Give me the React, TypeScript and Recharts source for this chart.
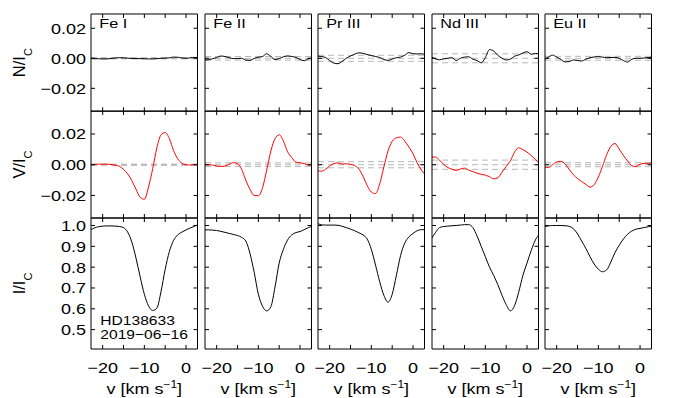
import React from "react";
import { Line, LineChart, ReferenceLine, XAxis, YAxis } from "recharts";

const FONT = '"Liberation Sans", Arial, Helvetica, sans-serif';
const STRETCH = 1.2; // the original lettering is a wide Helvetica

// velocity grid, km/s
const velocity = [
  -23, -22, -21, -20, -19, -18, -17, -16, -15, -14, -13, -12, -11, -10, -9, -8,
  -7, -6, -5, -4, -3, -2, -1, 0, 1, 2, 3,
];

const species = ["Fe I", "Fe II", "Pr III", "Nd III", "Eu II"];
const star = "HD138633";
const obsDate = "2019−06−16";

// null profiles N/Ic
const nullFeI = [0, -0.0002, -0.0003, -0.0004, -0.0004, -0.0001, 0.0002, 0.0004, 0.0003, 0.0001, -0.0001, -0.0002, -0.0002, -0.0003, -0.0004, -0.0004, -0.0002, 0, 0.0001, 0.0003, 0.0008, 0.0007, 0.0002, 0, 0.0003, 0.0006, 0.0005];
const nullFeII = [-0.0011, -0.001, -0.0003, 0.0005, 0.0015, 0.0012, 0.0004, -0.0002, -0.0002, 0, -0.0012, -0.0014, -0.0001, 0.0007, 0.0012, 0.003, 0.0012, -0.0008, -0.0002, 0.001, 0.0016, 0.0012, 0.0006, -0.0008, -0.0016, -0.0004, 0];
const nullPrIII = [0.0015, 0.0012, 0.0005, -0.0015, -0.0032, -0.0036, -0.002, 0, 0.0015, 0.0028, 0.0036, 0.0033, 0.0025, 0.0018, 0.0012, 0.0005, -0.0008, -0.0014, -0.0005, 0.0004, 0.0008, 0.002, 0.0038, 0.003, 0.0029, 0.003, 0.0025];
const nullNdIII = [0.0011, -0.0004, -0.001, -0.0004, 0, 0.0004, -0.0015, 0, 0.0008, 0.001, -0.0006, -0.0015, -0.003, 0.0005, 0.0058, 0.0048, 0.002, 0, -0.0011, -0.0005, 0.0014, 0.0022, 0.0035, 0.0044, 0.0027, 0.0032, 0.003];
const nullEuII = [-0.0012, 0.0008, 0.0021, 0.0008, -0.0008, -0.0024, -0.0022, -0.0011, -0.0015, -0.0018, -0.0006, 0.0004, 0.0009, 0.0011, 0.0008, 0.0004, 0.0005, 0.0006, 0, -0.0015, -0.0025, -0.0007, 0, 0, 0.0002, 0.0005, 0.0007];

// Stokes V/Ic
const stokesFeI = [0, 0.0002, 0.0004, 0.0004, 0.0004, 0.0002, -0.0003, -0.001, -0.003, -0.0059, -0.0104, -0.016, -0.0212, -0.0225, -0.0145, -0.0026, 0.011, 0.0195, 0.021, 0.017, 0.0093, 0.0039, 0.001, 0, -0.0002, 0, 0];
const stokesFeII = [0, 0, -0.0002, -0.0008, -0.0011, -0.0009, 0.0004, 0.0014, 0.0007, -0.003, -0.0102, -0.016, -0.02, -0.0202, -0.015, -0.0035, 0.009, 0.017, 0.0195, 0.0155, 0.0085, 0.0047, 0.0017, 0.0012, 0.0008, -0.0002, -0.0004];
const stokesPrIII = [-0.0038, -0.0042, -0.003, -0.0008, 0.0008, 0.0012, 0.0005, 0.0006, 0.0003, -0.0006, -0.0028, -0.0075, -0.0135, -0.0178, -0.0188, -0.0125, -0.0015, 0.009, 0.0152, 0.0175, 0.018, 0.0155, 0.0115, 0.0072, 0.0012, -0.0035, -0.0068];
const stokesNdIII = [0.005, 0.005, 0.003, 0.0002, -0.0018, -0.003, -0.0037, -0.0028, -0.0022, -0.0035, -0.0045, -0.0055, -0.0062, -0.0068, -0.0078, -0.0092, -0.0085, -0.0048, -0.0012, 0.0025, 0.0082, 0.011, 0.0098, 0.0082, 0.006, 0.0035, 0.0005];
const stokesEuII = [-0.0015, -0.0018, 0, 0.0018, 0.0022, 0.0006, -0.003, -0.0065, -0.009, -0.011, -0.0128, -0.0146, -0.013, -0.008, -0.001, 0.0065, 0.012, 0.0138, 0.0102, 0.0061, 0.0025, -0.0006, -0.0012, 0.0003, 0.0009, 0.001, 0.001];

// intensity I/Ic
const intensityFeI = [0.978, 0.988, 0.994, 0.997, 0.998, 0.998, 0.997, 0.995, 0.99, 0.968, 0.92, 0.843, 0.753, 0.67, 0.614, 0.592, 0.603, 0.683, 0.79, 0.875, 0.928, 0.955, 0.968, 0.979, 0.988, 0.996, 1.005];
const intensityFeII = [0.979, 0.979, 0.978, 0.976, 0.972, 0.967, 0.962, 0.957, 0.952, 0.943, 0.925, 0.865, 0.775, 0.67, 0.612, 0.59, 0.61, 0.705, 0.82, 0.885, 0.93, 0.955, 0.966, 0.971, 0.98, 0.99, 0.997];
const intensityPrIII = [1.012, 1.003, 1.002, 1.002, 1.002, 1.001, 0.996, 0.99, 0.983, 0.975, 0.965, 0.955, 0.935, 0.885, 0.81, 0.73, 0.665, 0.632, 0.67, 0.76, 0.855, 0.915, 0.945, 0.962, 0.975, 0.98, 0.98];
const intensityNdIII = [0.935, 0.965, 0.99, 0.995, 0.997, 0.999, 1.0, 1.002, 1.004, 1.004, 0.99, 0.95, 0.9, 0.85, 0.8, 0.76, 0.715, 0.665, 0.62, 0.59, 0.615, 0.68, 0.76, 0.82, 0.88, 0.93, 0.96];
const intensityEuII = [0.995, 0.998, 1.0, 1.0, 1.0, 0.999, 0.996, 0.985, 0.96, 0.925, 0.89, 0.85, 0.815, 0.79, 0.778, 0.787, 0.825, 0.87, 0.905, 0.935, 0.958, 0.973, 0.982, 0.986, 0.99, 0.994, 0.998];

// error level drawn as the dashed lines around zero
const noiseLevel = [0.0004, 0.0012, 0.002, 0.003, 0.0013];

const velocityTicks = [-20, -15, -10, -5, 0];
const velocityLabels = [-20, -10, 0];
const polTicks = [-0.02, 0, 0.02];
const intensityTicks = [0.5, 0.6, 0.7, 0.8, 0.9, 1.0];

const nullByLine = [nullFeI, nullFeII, nullPrIII, nullNdIII, nullEuII];
const stokesByLine = [stokesFeI, stokesFeII, stokesPrIII, stokesNdIII, stokesEuII];
const intensityByLine = [intensityFeI, intensityFeII, intensityPrIII, intensityNdIII, intensityEuII];

const X_DOMAIN: [number, number] = [-22.8, 2.75];
const COL_LEFT = [91, 204.5, 318, 431.5, 545];
const PLOT_W = 106.5;
const SIDE = 14; // spare room left of inner panels so the "−20" labels fit

const ROWS = [
  { key: "n", name: "N", domain: [-0.0353, 0.0295], ticks: polTicks, digits: 2, color: "#000", top: 14, h: 97.3 },
  { key: "s", name: "V", domain: [-0.0347, 0.035], ticks: polTicks, digits: 2, color: "#ff0000", top: 111.3, h: 107 },
  { key: "i", name: "I", domain: [0.407, 1.036], ticks: intensityTicks, digits: 1, color: "#000", top: 218.3, h: 131 },
];

function fmt(v: number, digits: number) {
  const s = Math.abs(v).toFixed(digits);
  return v < -1e-9 ? `−${s}` : s;
}

function SText({ x, y, anchor = "start", size = 15, children }: any) {
  return (
    <text
      transform={`translate(${x},${y}) scale(${STRETCH},1)`}
      textAnchor={anchor}
      fontSize={size}
      fontFamily={FONT}
      fill="#000"
    >
      {children}
    </text>
  );
}

const noLabel = () => <g />;

function Panel({ col, row }: { col: number; row: number }) {
  const r = ROWS[row];
  const first = col === 0;
  const last = row === 2;
  const labelW = first ? COL_LEFT[0] : SIDE;
  const labelH = last ? 52 : 1;
  const data = velocity.map((v, k) => ({
    v,
    n: nullByLine[col][k],
    s: stokesByLine[col][k],
    i: intensityByLine[col][k],
  }));
  const frame = { stroke: "#000", strokeWidth: 1 };
  const sigma = noiseLevel[col];
  const xCommon = {
    type: "number" as const,
    dataKey: "v",
    domain: X_DOMAIN,
    allowDataOverflow: true,
    interval: 0 as const,
  };
  const yCommon = {
    type: "number" as const,
    dataKey: r.key,
    domain: r.domain,
    allowDataOverflow: true,
    ticks: r.ticks,
    interval: 0 as const,
  };

  return (
    <div style={{ position: "absolute", left: COL_LEFT[col] - labelW, top: r.top - 1 }}>
      <LineChart
        width={labelW + PLOT_W + 1}
        height={1 + r.h + labelH}
        data={data}
        margin={{ top: 1, right: 1, bottom: last ? 0 : 1, left: first ? 0 : SIDE }}
      >
        <XAxis
          {...xCommon}
          xAxisId="b"
          ticks={velocityTicks}
          orientation="bottom"
          mirror
          height={1}
          tick={noLabel}
          tickSize={4}
          axisLine={frame}
          tickLine={frame}
          label={
            first && last
              ? {
                  content: (p: any) => (
                    <g>
                      <SText x={p.viewBox.x + 9.3} y={p.viewBox.y - 23.3} size={13}>{star}</SText>
                      <SText x={p.viewBox.x + 9.3} y={p.viewBox.y - 9} size={13}>{obsDate}</SText>
                    </g>
                  ),
                }
              : undefined
          }
        />
        <XAxis
          {...xCommon}
          xAxisId="t"
          ticks={velocityTicks}
          orientation="top"
          mirror
          height={1}
          tick={noLabel}
          tickSize={4}
          axisLine={frame}
          tickLine={frame}
          label={
            row === 0
              ? {
                  content: (p: any) => (
                    <SText x={p.viewBox.x + 8.3} y={p.viewBox.y + 13.7} size={13.5}>
                      {species[col]}
                    </SText>
                  ),
                }
              : undefined
          }
        />
        {last && (
          <XAxis
            {...xCommon}
            xAxisId="lab"
            ticks={velocityLabels}
            orientation="bottom"
            height={52}
            tickLine={false}
            axisLine={false}
            tickSize={0}
            tickMargin={0}
            tick={(p: any) => (
              <SText x={p.x} y={p.y + 23.5} anchor="middle">
                {fmt(p.payload.value, 0)}
              </SText>
            )}
            label={{
              content: (p: any) => (
                <text
                  transform={`translate(${p.viewBox.x + p.viewBox.width / 2},${p.viewBox.y + 44.5}) scale(${STRETCH},1)`}
                  textAnchor="middle"
                  fontSize={15}
                  fontFamily={FONT}
                  fill="#000"
                >
                  v [km s
                  <tspan fontSize={10} dy={-6}>−1</tspan>
                  <tspan dy={6}>]</tspan>
                </text>
              ),
            }}
          />
        )}
        <YAxis
          {...yCommon}
          yAxisId="l"
          orientation="left"
          mirror
          width={1}
          tick={noLabel}
          tickSize={4}
          axisLine={frame}
          tickLine={frame}
        />
        <YAxis
          {...yCommon}
          yAxisId="r"
          orientation="right"
          mirror
          width={1}
          tick={noLabel}
          tickSize={4}
          axisLine={frame}
          tickLine={frame}
        />
        {first && (
          <YAxis
            {...yCommon}
            yAxisId="lab"
            orientation="left"
            width={COL_LEFT[0]}
            tickLine={false}
            axisLine={false}
            tickSize={0}
            tickMargin={5}
            tick={(p: any) => (
              <SText x={p.x} y={p.y + 5.4} anchor="end">
                {fmt(p.payload.value, r.digits)}
              </SText>
            )}
            label={{
              content: (p: any) => (
                <text
                  transform={`translate(24.5,${p.viewBox.y + p.viewBox.height / 2}) rotate(-90)`}
                  textAnchor="middle"
                  fontSize={16.5}
                  fontFamily={FONT}
                  fill="#000"
                >
                  {r.name}/I
                  <tspan fontSize={11} dy={7}>C</tspan>
                </text>
              ),
            }}
          />
        )}
        {row < 2 &&
          [sigma, 0, -sigma].map((y) => (
            <ReferenceLine
              key={y}
              xAxisId="b"
              yAxisId="l"
              y={y}
              stroke="#b8b8b8"
              strokeWidth={1}
              strokeDasharray="6 4"
            />
          ))}
        <Line
          xAxisId="b"
          yAxisId="l"
          type="monotone"
          dataKey={r.key}
          stroke={r.color}
          strokeWidth={1}
          dot={false}
          isAnimationActive={false}
        />
      </LineChart>
    </div>
  );
}

export default function App() {
  return (
    <div
      style={{
        position: "absolute",
        left: 0,
        top: 0,
        width: 676,
        height: 398,
        background: "#fff",
        overflow: "hidden",
      }}
    >
      {ROWS.map((_, row) =>
        species.map((_, col) => <Panel key={`${row}-${col}`} col={col} row={row} />)
      )}
    </div>
  );
}
